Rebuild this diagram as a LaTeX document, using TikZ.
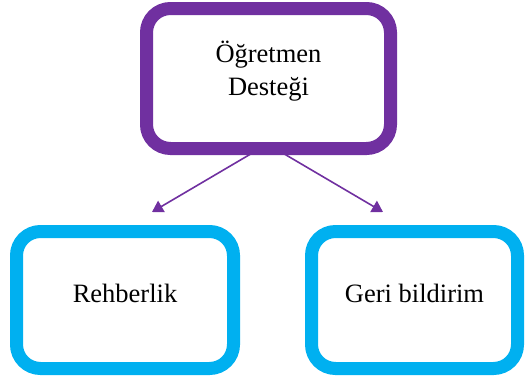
\documentclass[tikz,border=0pt]{standalone}
\usepackage{fontspec}
\setmainfont{Liberation Serif}
\usetikzlibrary{positioning, arrows.meta}
\definecolor{mor}{HTML}{7030A0}
\definecolor{mavi}{HTML}{00B0F0}

\begin{document}
\begin{tikzpicture}[x=1pt,y=-1pt,on grid,
    kutu/.style={draw, rounded corners=24pt, line width=13pt, fill=white,
      align=center, font=\fontsize{26.5}{33}\selectfont},
    ust/.style={kutu, draw=mor, minimum width=244pt, minimum height=140pt, text depth=20pt},
    alt/.style={kutu, draw=mavi, minimum height=137pt, text depth=13pt},
    ok/.style={-{Triangle[width=13pt,length=11pt]}, draw=mor, line width=1.6pt}]
   \useasboundingbox (0,0) rectangle (526,380);
   \node[ust] (destek) at (268.5,78.5) {Öğretmen\\Desteği};
   \node[alt, minimum width=217pt] (rehber) [below left=221.5pt and 143.5pt of destek] {Rehberlik};
   \node[alt, minimum width=206pt] (geri) [below right=221.5pt and 146pt of destek] {Geri bildirim};

   % free arrow ends above the lower boxes
   \coordinate (uc1) at (152,212);
   \coordinate (uc2) at (383,212);

   \draw[ok] ([xshift=-8.5pt,yshift=6.5pt]destek.south) -- (uc1);
   \draw[ok] ([xshift=6.5pt,yshift=6.5pt]destek.south) -- (uc2);
\end{tikzpicture}
\end{document}
